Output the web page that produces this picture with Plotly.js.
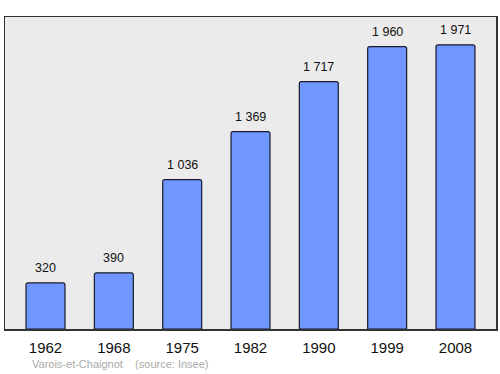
<!DOCTYPE html>
<html><head><meta charset="utf-8">
<script src="https://cdn.plot.ly/plotly-3.0.1.min.js"></script>
<style>html,body{margin:0;padding:0;background:#fff}#c{width:500px;height:374px}</style>
</head><body><div id="c"></div>
<script>
const years = ["1962","1968","1975","1982","1990","1999","2008"];
const population = [320, 390, 1036, 1369, 1717, 1960, 1971];
const labels = ["320","390","1 036","1 369","1 717","1 960","1 971"];

const FONT = "Liberation Sans, Arial, sans-serif";
const valueNotes = years.map((yr, i) => ({
  x: i, y: population[i], xref: "x", yref: "y",
  text: labels[i], showarrow: false,
  xanchor: "center", yanchor: "middle", yshift: 15,
  font: {family: FONT, size: 12.5, color: "#111"}
}));

Plotly.newPlot("c", [{
  type: "bar",
  x: years,
  y: population,
  width: 0.57,
  marker: {color: "#6f97ff", line: {color: "#1a1a2a", width: 1.2}, cornerradius: 2},
  hoverinfo: "none"
}], {
  width: 500, height: 374,
  margin: {l: 5, r: 4, t: 17, b: 45},
  paper_bgcolor: "#ffffff",
  plot_bgcolor: "#ebebeb",
  showlegend: false,
  xaxis: {
    type: "category",
    range: [-0.593, 6.593],
    showgrid: false, zeroline: false,
    showline: true, mirror: true, linecolor: "#333", linewidth: 1.5,
    ticks: "outside", ticklen: 4, tickcolor: "rgba(0,0,0,0)",
    tickfont: {family: FONT, size: 15, color: "#111"},
    fixedrange: true
  },
  yaxis: {
    range: [0, 2165],
    showgrid: false, zeroline: false,
    showline: true, mirror: true, linecolor: "#333", linewidth: 1.5,
    showticklabels: false, ticks: "",
    fixedrange: true
  },
  annotations: valueNotes.concat([{
    text: "Varois-et-Chaignot &nbsp;&nbsp; (source: Insee)",
    xref: "paper", yref: "paper", x: 0.05, y: -0.113,
    xanchor: "left", yanchor: "middle", showarrow: false,
    font: {family: FONT, size: 11, color: "#aaaaaa"}
  }])
}, {staticPlot: true});
</script></body></html>
